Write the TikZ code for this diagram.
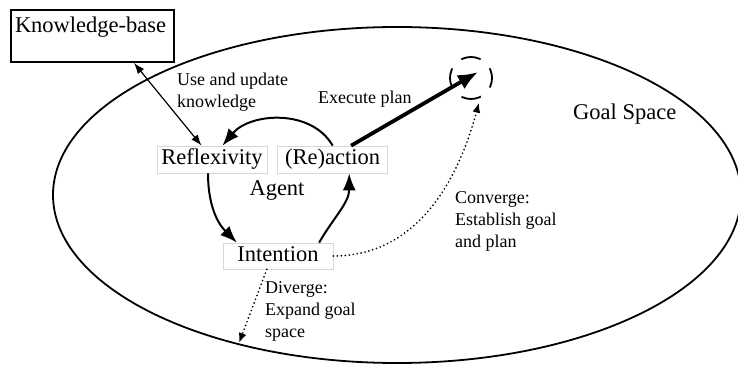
\documentclass[tikz,border=0pt]{standalone}
\usepackage{fontspec}
\setmainfont{Liberation Serif}
\usepackage{tikz}
\usetikzlibrary{arrows.meta, positioning}
\definecolor{BoxGrau}{RGB}{215,215,215}

\begin{document}
\begin{tikzpicture}[x=1pt, y=1pt,
    every node/.style={font=\fontsize{22.5}{26}\selectfont},
    note/.style={font=\fontsize{18}{22}\selectfont, align=left, inner sep=0pt, anchor=north west},
    phase/.style={draw=BoxGrau, line width=0.7pt, minimum width=110pt, minimum height=27pt, inner sep=0pt, text height=14.5pt, text depth=4pt},
    kbbox/.style={draw, line width=1.8pt, text width=155pt, align=left, inner xsep=4pt, inner ysep=4pt, text height=19pt, text depth=25pt},
    goalring/.style={circle, draw, minimum size=42pt, inner sep=0pt, line width=1.8pt, dash pattern=on 20pt off 13pt, dash phase=10pt},
    loopline/.style={line width=2pt, -{Latex[length=17pt, width=13pt]}},
    dotarrow/.style={line width=1.9pt, line cap=round, dash pattern=on 0pt off 4pt, -{Latex[length=10pt, width=8pt]}}]
    \useasboundingbox (0,0) rectangle (738,364);
    \draw[line width=1.8pt] (397,169) ellipse [x radius=344pt, y radius=168pt];

    \node[kbbox] (kb) at (92.5,328) {Knowledge-base};
    \node[phase] (refl) at (212,204.5) {Reflexivity};
    \node[phase, right=10pt of refl] (act) {(Re)action};
    \node[phase, minimum height=26pt] (int) at (278,108) {Intention};
    \node[anchor=base] (agent) at (277,168) {Agent};
    \node[anchor=north west, inner sep=0pt] (space) at (573,260) {Goal Space};
    \node[goalring] (goal) at (471,286) {};
    \coordinate (plan) at (478,292);
    \coordinate (rim) at (239,21);

    \node[note] (kbnote) at (177,291) {Use and update\\knowledge};
    \node[note] (execnote) at (318,273) {Execute plan};
    \node[note] (convnote) at (455,173) {Converge:\\Establish goal\\and plan};
    \node[note] (divnote) at (265,83) {Diverge:\\Expand goal\\space};

    \draw[line width=1.2pt, {Latex[length=11pt, width=8pt]}-{Latex[length=11pt, width=8pt]}] (kb.-33) -- (refl.127);
    \draw[loopline] (act.north) to[out=120, in=50] (refl.53);
    \draw[loopline] ([xshift=-4pt]refl.south) to[out=-90, in=135] (int.162);
    \draw[loopline] (int.18) to[out=60, in=-90] (act.-40);
    \draw[line width=3.8pt, -{Latex[length=20pt, width=16pt]}] (act.37) -- (plan);
    \draw[dotarrow, shorten >=5pt] (int.east) to[out=0, in=-105] (goal.-65);
    \draw[dotarrow] (int.230) -- (rim);
\end{tikzpicture}
\end{document}
